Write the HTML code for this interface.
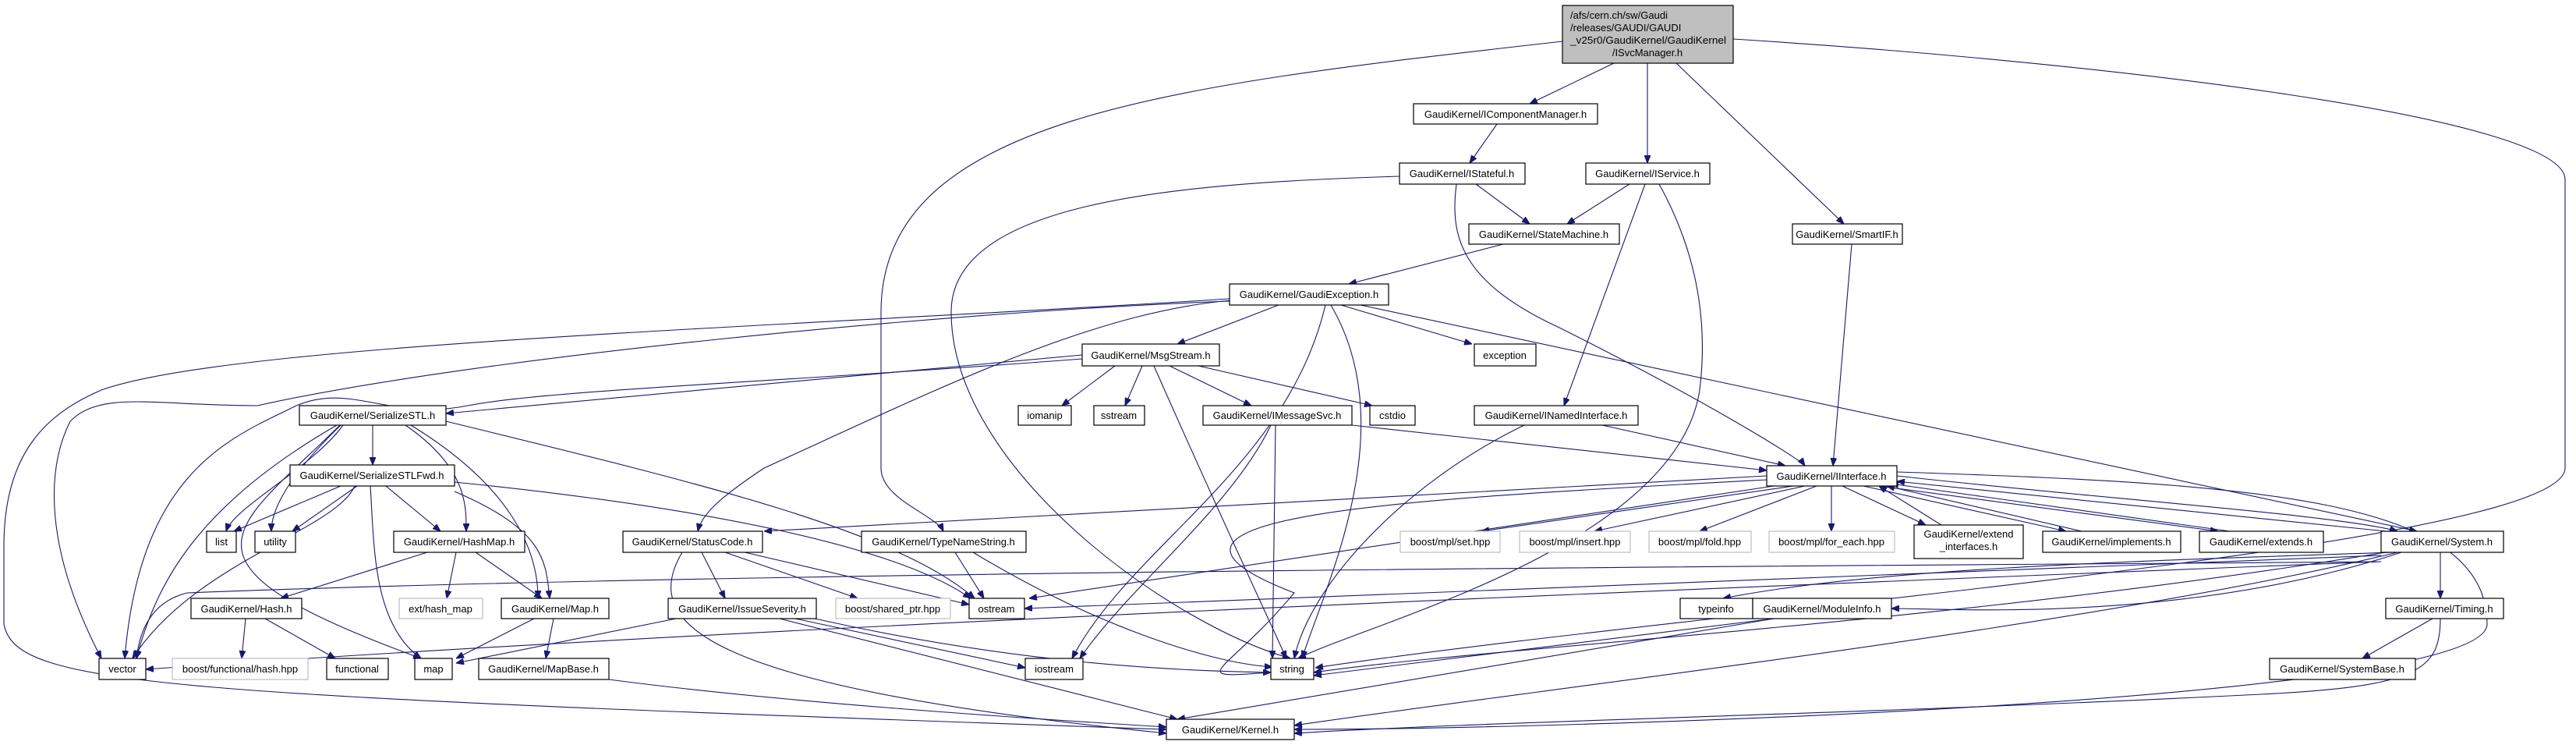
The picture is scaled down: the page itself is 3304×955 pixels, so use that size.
<!DOCTYPE html>
<html><head><meta charset="utf-8"><style>
html,body{margin:0;padding:0;background:#fff;}
svg{display:block;}
text{font-family:"Liberation Sans",sans-serif;font-size:13px;fill:#000;}
.n{fill:#fff;stroke:#000;stroke-width:1.2;}
.g{fill:#fff;stroke:#bfbfbf;stroke-width:1.2;}
.e{fill:none;stroke:#191970;stroke-width:1.1;}
</style></head><body>
<svg width="3304" height="955" viewBox="0 0 3304 955" xmlns="http://www.w3.org/2000/svg">
<defs><marker id="a" markerWidth="10" markerHeight="8" refX="10" refY="4" orient="auto" markerUnits="userSpaceOnUse"><path d="M0,0 L10,4 L0,8 z" fill="#191970" stroke="#191970"/></marker></defs>
<g class="e" marker-end="url(#a)">
<path d="M2070,81 L1962,133"/>
<path d="M2113,81 L2113,209"/>
<path d="M2150,81 L2365,287"/>
<path d="M2004,53 C1500,110 1130,150 1130,400 L1130,600 C1130,640 1200,660 1210,681"/>
<path d="M2223,50 C2700,80 3290,150 3290,230 L3290,600 C3290,700 2200,780 1687,856"/>
<path d="M1920,159 L1885,209"/>
<path d="M1893,236 L1962,287"/>
<path d="M2090,236 L2010,287"/>
<path d="M1795,226 C1500,235 1220,260 1220,400 C1220,600 1500,800 1655,844"/>
<path d="M1868,236 C1860,300 1870,360 2000,420 C2200,520 2310,590 2315,597"/>
<path d="M2110,236 L2006,520"/>
<path d="M2128,236 C2180,330 2190,420 2180,500 C2150,700 1750,800 1665,844"/>
<path d="M1928,313 L1730,364"/>
<path d="M2375,313 L2351,597"/>
<path d="M1640,391 L1510,441"/>
<path d="M1720,391 L1888,441"/>
<path d="M1745,391 L3100,681"/>
<path d="M1580,385 C1400,400 1200,500 980,600 C920,640 900,660 895,681"/>
<path d="M1707,391 C1800,550 1700,750 1670,844"/>
<path d="M1700,391 C1650,600 1450,700 1375,844"/>
<path d="M1577,383 C1000,420 300,440 130,500 C60,530 5,580 5,700 L5,800 C20,880 200,890 1496,935"/>
<path d="M1577,386 C1200,400 600,460 330,520 C200,520 130,500 90,540 C60,600 55,700 130,844"/>
<path d="M1388,455 L572,530"/>
<path d="M1430,469 L1362,520"/>
<path d="M1465,469 L1443,520"/>
<path d="M1500,469 L1605,520"/>
<path d="M1537,469 L1760,520"/>
<path d="M1480,469 C1560,650 1630,800 1650,844"/>
<path d="M1388,460 C1000,490 700,500 600,520 C500,540 450,490 380,520 C300,560 180,600 160,844"/>
<path d="M1734,545 L2266,603"/>
<path d="M1636,545 L1632,844"/>
<path d="M1630,545 C1580,650 1450,750 1385,844"/>
<path d="M2055,545 L2290,597"/>
<path d="M1955,545 C1800,620 1680,750 1660,844"/>
<path d="M478,545 L478,596"/>
<path d="M440,545 C400,600 300,650 290,681"/>
<path d="M437,545 C360,620 348,660 348,681"/>
<path d="M520,545 C600,600 598,650 598,681"/>
<path d="M527,545 C650,620 690,700 690,767"/>
<path d="M432,545 C250,650 200,750 175,844"/>
<path d="M436,545 C300,680 200,720 540,844"/>
<path d="M572,540 C900,620 1150,680 1250,767"/>
<path d="M437,623 L300,681"/>
<path d="M458,623 L375,681"/>
<path d="M495,623 L565,681"/>
<path d="M475,623 C480,700 478,800 540,844"/>
<path d="M455,623 C430,680 250,720 170,844"/>
<path d="M583,630 C700,680 700,720 705,767"/>
<path d="M583,618 C900,650 1150,700 1245,767"/>
<path d="M548,708 L360,767"/>
<path d="M585,708 L573,767"/>
<path d="M610,708 L695,767"/>
<path d="M315,793 L310,844"/>
<path d="M340,793 L430,844"/>
<path d="M685,793 L585,844"/>
<path d="M710,793 L700,844"/>
<path d="M781,871 C1000,900 1300,920 1496,932"/>
<path d="M900,708 L930,767"/>
<path d="M930,708 L1100,767"/>
<path d="M955,708 L1243,775"/>
<path d="M875,708 C820,800 900,880 1496,940"/>
<path d="M1225,708 L1262,767"/>
<path d="M1248,708 C1400,800 1550,850 1632,855"/>
<path d="M867,793 L585,850"/>
<path d="M1020,793 L1315,856"/>
<path d="M1045,793 C1300,850 1500,860 1630,862"/>
<path d="M1000,793 L1510,922"/>
<path d="M2266,610 L980,681"/>
<path d="M2275,623 L1320,767"/>
<path d="M2300,623 L1900,681"/>
<path d="M2315,623 L2045,681"/>
<path d="M2330,623 L2180,681"/>
<path d="M2349,623 L2349,681"/>
<path d="M2363,623 L2470,673"/>
<path d="M2390,623 L2650,681"/>
<path d="M2410,623 L2845,681"/>
<path d="M2433,610 C2700,640 3000,660 3075,681"/>
<path d="M2433,605 C2900,620 3190,640 3190,800 C3190,900 2000,935 1660,935"/>
<path d="M2266,615 C1800,640 1400,660 1660,760 C1560,880 1500,870 1685,858"/>
<path d="M2490,673 L2410,623"/>
<path d="M2670,681 L2420,623"/>
<path d="M2860,681 L2425,620"/>
<path d="M3060,681 L2433,617"/>
<path d="M3130,708 L3130,767"/>
<path d="M3080,708 C2800,800 2500,780 2426,780"/>
<path d="M3070,708 C2700,720 2400,730 2210,767"/>
<path d="M3060,708 C2500,800 1900,830 1685,862"/>
<path d="M3075,708 C2700,800 2000,880 1660,930"/>
<path d="M3054,720 C2500,725 1000,730 240,760 C200,770 180,800 175,844"/>
<path d="M3054,712 L1314,780"/>
<path d="M3050,720 C2300,750 1000,800 187,858"/>
<path d="M3120,793 L3030,844"/>
<path d="M3130,793 C3130,860 3100,880 2900,890 C2400,915 1900,925 1660,940"/>
<path d="M2275,793 L1685,866"/>
<path d="M2275,793 L1510,922"/>
</g>
<g>
<rect x="2004" y="7" width="219" height="74" fill="#bfbfbf" stroke="#000" stroke-width="1.2"/>
<text x="2014" y="24">/afs/cern.ch/sw/Gaudi</text>
<text x="2014" y="40">/releases/GAUDI/GAUDI</text>
<text x="2014" y="56" textLength="200" lengthAdjust="spacingAndGlyphs">_v25r0/GaudiKernel/GaudiKernel</text>
<text x="2113" y="72" text-anchor="middle">/ISvcManager.h</text>
</g>
<g id="nodes"></g>
<g>
<rect class="n" x="1813" y="133" width="236" height="26"/><text x="1931" y="151" text-anchor="middle">GaudiKernel/IComponentManager.h</text>
<rect class="n" x="1795" y="209" width="161" height="27"/><text x="1875" y="227" text-anchor="middle">GaudiKernel/IStateful.h</text>
<rect class="n" x="2034" y="209" width="159" height="27"/><text x="2113" y="227" text-anchor="middle">GaudiKernel/IService.h</text>
<rect class="n" x="1884" y="287" width="193" height="26"/><text x="1980" y="305" text-anchor="middle">GaudiKernel/StateMachine.h</text>
<rect class="n" x="2299" y="287" width="141" height="26"/><text x="2369" y="305" text-anchor="middle">GaudiKernel/SmartIF.h</text>
<rect class="n" x="1577" y="364" width="204" height="27"/><text x="1679" y="382" text-anchor="middle">GaudiKernel/GaudiException.h</text>
<rect class="n" x="1388" y="441" width="176" height="28"/><text x="1476" y="460" text-anchor="middle">GaudiKernel/MsgStream.h</text>
<rect class="n" x="1891" y="441" width="79" height="28"/><text x="1930" y="460" text-anchor="middle">exception</text>
<rect class="n" x="384" y="520" width="188" height="25"/><text x="478" y="537" text-anchor="middle">GaudiKernel/SerializeSTL.h</text>
<rect class="n" x="1306" y="520" width="68" height="25"/><text x="1340" y="537" text-anchor="middle">iomanip</text>
<rect class="n" x="1403" y="520" width="65" height="25"/><text x="1435" y="537" text-anchor="middle">sstream</text>
<rect class="n" x="1543" y="520" width="191" height="25"/><text x="1638" y="537" text-anchor="middle">GaudiKernel/IMessageSvc.h</text>
<rect class="n" x="1757" y="520" width="58" height="25"/><text x="1786" y="537" text-anchor="middle">cstdio</text>
<rect class="n" x="1891" y="520" width="210" height="25"/><text x="1996" y="537" text-anchor="middle">GaudiKernel/INamedInterface.h</text>
<rect class="n" x="372" y="596" width="211" height="27"/><text x="477" y="614" text-anchor="middle">GaudiKernel/SerializeSTLFwd.h</text>
<rect class="n" x="2266" y="597" width="167" height="26"/><text x="2349" y="615" text-anchor="middle">GaudiKernel/IInterface.h</text>
<rect class="n" x="265" y="681" width="38" height="27"/><text x="284" y="699" text-anchor="middle">list</text>
<rect class="n" x="327" y="681" width="52" height="27"/><text x="353" y="699" text-anchor="middle">utility</text>
<rect class="n" x="505" y="681" width="168" height="27"/><text x="589" y="699" text-anchor="middle">GaudiKernel/HashMap.h</text>
<rect class="n" x="799" y="681" width="179" height="27"/><text x="888" y="699" text-anchor="middle">GaudiKernel/StatusCode.h</text>
<rect class="n" x="1105" y="681" width="211" height="27"/><text x="1210" y="699" text-anchor="middle">GaudiKernel/TypeNameString.h</text>
<rect class="g" x="1796" y="681" width="128" height="27"/><text x="1860" y="699" text-anchor="middle" fill="#000">boost/mpl/set.hpp</text>
<rect class="g" x="1949" y="681" width="142" height="27"/><text x="2020" y="699" text-anchor="middle">boost/mpl/insert.hpp</text>
<rect class="g" x="2115" y="681" width="131" height="27"/><text x="2180" y="699" text-anchor="middle">boost/mpl/fold.hpp</text>
<rect class="g" x="2269" y="681" width="161" height="27"/><text x="2349" y="699" text-anchor="middle">boost/mpl/for_each.hpp</text>
<rect class="n" x="2455" y="673" width="140" height="43"/><text x="2525" y="689" text-anchor="middle">GaudiKernel/extend</text><text x="2525" y="705" text-anchor="middle">_interfaces.h</text>
<rect class="n" x="2620" y="681" width="177" height="27"/><text x="2708" y="699" text-anchor="middle">GaudiKernel/implements.h</text>
<rect class="n" x="2821" y="681" width="159" height="27"/><text x="2900" y="699" text-anchor="middle">GaudiKernel/extends.h</text>
<rect class="n" x="3054" y="681" width="157" height="27"/><text x="3132" y="699" text-anchor="middle">GaudiKernel/System.h</text>
<rect class="n" x="245" y="767" width="142" height="26"/><text x="316" y="785" text-anchor="middle">GaudiKernel/Hash.h</text>
<rect class="g" x="512" y="767" width="107" height="26"/><text x="565" y="785" text-anchor="middle">ext/hash_map</text>
<rect class="n" x="643" y="767" width="138" height="26"/><text x="712" y="785" text-anchor="middle">GaudiKernel/Map.h</text>
<rect class="n" x="857" y="767" width="190" height="26"/><text x="952" y="785" text-anchor="middle">GaudiKernel/IssueSeverity.h</text>
<rect class="g" x="1072" y="767" width="147" height="26"/><text x="1145" y="785" text-anchor="middle">boost/shared_ptr.hpp</text>
<rect class="n" x="1243" y="767" width="71" height="26"/><text x="1278" y="785" text-anchor="middle">ostream</text>
<rect class="n" x="2155" y="767" width="93" height="26"/><text x="2201" y="785" text-anchor="middle">typeinfo</text>
<rect class="n" x="2248" y="767" width="178" height="26"/><text x="2337" y="785" text-anchor="middle">GaudiKernel/ModuleInfo.h</text>
<rect class="n" x="3060" y="767" width="151" height="26"/><text x="3135" y="785" text-anchor="middle">GaudiKernel/Timing.h</text>
<rect class="n" x="127" y="844" width="60" height="27"/><text x="157" y="862" text-anchor="middle">vector</text>
<rect class="g" x="221" y="844" width="174" height="27"/><text x="308" y="862" text-anchor="middle">boost/functional/hash.hpp</text>
<rect class="n" x="419" y="844" width="79" height="27"/><text x="458" y="862" text-anchor="middle">functional</text>
<rect class="n" x="532" y="844" width="48" height="27"/><text x="556" y="862" text-anchor="middle">map</text>
<rect class="n" x="614" y="844" width="167" height="27"/><text x="697" y="862" text-anchor="middle">GaudiKernel/MapBase.h</text>
<rect class="n" x="1315" y="844" width="74" height="27"/><text x="1352" y="862" text-anchor="middle">iostream</text>
<rect class="n" x="1630" y="844" width="55" height="27"/><text x="1657" y="862" text-anchor="middle">string</text>
<rect class="n" x="2911" y="844" width="187" height="27"/><text x="3004" y="862" text-anchor="middle">GaudiKernel/SystemBase.h</text>
<rect class="n" x="1496" y="922" width="164" height="26"/><text x="1578" y="940" text-anchor="middle">GaudiKernel/Kernel.h</text>
</g>
</svg>
</body></html>
